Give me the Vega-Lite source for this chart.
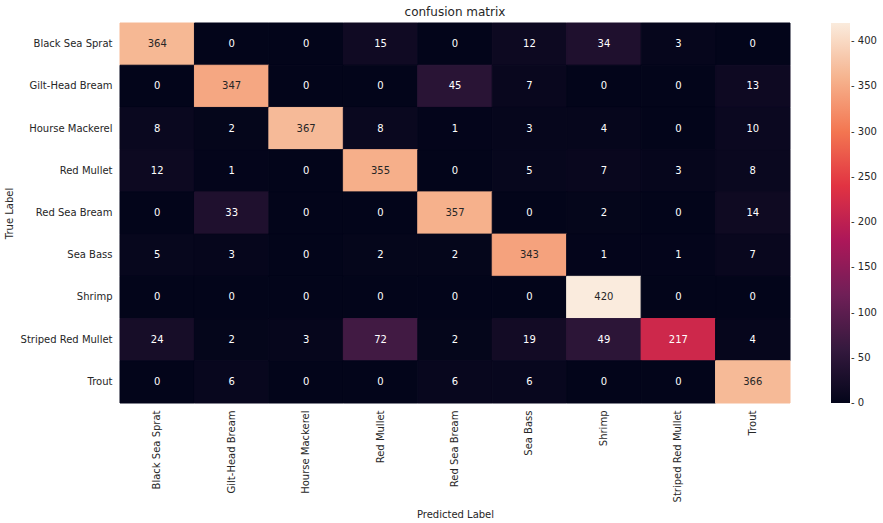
{
  "$schema": "https://vega.github.io/schema/vega-lite/v6.json",
  "width": 670,
  "height": 380,
  "autosize": "none",
  "padding": {"left": 120, "top": 23, "right": 93, "bottom": 120},
  "background": "white",
  "title": {"text": "confusion matrix", "fontSize": 12, "fontWeight": "normal", "font": "DejaVu Sans", "color": "#262626", "offset": 4},
  "config": {
    "view": {"stroke": null},
    "font": "DejaVu Sans",
    "axis": {"labelFont": "DejaVu Sans", "titleFont": "DejaVu Sans", "labelColor": "#262626", "titleColor": "#262626", "labelFontSize": 10, "titleFontSize": 10, "titleFontWeight": "normal", "ticks": false, "domain": false, "grid": false},
    "legend": {"labelFont": "DejaVu Sans", "labelFontSize": 10, "labelColor": "#262626"}
  },
  "data": {"values": [
    {"t": "Black Sea Sprat", "p": "Black Sea Sprat", "v": 364},
    {"t": "Black Sea Sprat", "p": "Gilt-Head Bream", "v": 0},
    {"t": "Black Sea Sprat", "p": "Hourse Mackerel", "v": 0},
    {"t": "Black Sea Sprat", "p": "Red Mullet", "v": 15},
    {"t": "Black Sea Sprat", "p": "Red Sea Bream", "v": 0},
    {"t": "Black Sea Sprat", "p": "Sea Bass", "v": 12},
    {"t": "Black Sea Sprat", "p": "Shrimp", "v": 34},
    {"t": "Black Sea Sprat", "p": "Striped Red Mullet", "v": 3},
    {"t": "Black Sea Sprat", "p": "Trout", "v": 0},
    {"t": "Gilt-Head Bream", "p": "Black Sea Sprat", "v": 0},
    {"t": "Gilt-Head Bream", "p": "Gilt-Head Bream", "v": 347},
    {"t": "Gilt-Head Bream", "p": "Hourse Mackerel", "v": 0},
    {"t": "Gilt-Head Bream", "p": "Red Mullet", "v": 0},
    {"t": "Gilt-Head Bream", "p": "Red Sea Bream", "v": 45},
    {"t": "Gilt-Head Bream", "p": "Sea Bass", "v": 7},
    {"t": "Gilt-Head Bream", "p": "Shrimp", "v": 0},
    {"t": "Gilt-Head Bream", "p": "Striped Red Mullet", "v": 0},
    {"t": "Gilt-Head Bream", "p": "Trout", "v": 13},
    {"t": "Hourse Mackerel", "p": "Black Sea Sprat", "v": 8},
    {"t": "Hourse Mackerel", "p": "Gilt-Head Bream", "v": 2},
    {"t": "Hourse Mackerel", "p": "Hourse Mackerel", "v": 367},
    {"t": "Hourse Mackerel", "p": "Red Mullet", "v": 8},
    {"t": "Hourse Mackerel", "p": "Red Sea Bream", "v": 1},
    {"t": "Hourse Mackerel", "p": "Sea Bass", "v": 3},
    {"t": "Hourse Mackerel", "p": "Shrimp", "v": 4},
    {"t": "Hourse Mackerel", "p": "Striped Red Mullet", "v": 0},
    {"t": "Hourse Mackerel", "p": "Trout", "v": 10},
    {"t": "Red Mullet", "p": "Black Sea Sprat", "v": 12},
    {"t": "Red Mullet", "p": "Gilt-Head Bream", "v": 1},
    {"t": "Red Mullet", "p": "Hourse Mackerel", "v": 0},
    {"t": "Red Mullet", "p": "Red Mullet", "v": 355},
    {"t": "Red Mullet", "p": "Red Sea Bream", "v": 0},
    {"t": "Red Mullet", "p": "Sea Bass", "v": 5},
    {"t": "Red Mullet", "p": "Shrimp", "v": 7},
    {"t": "Red Mullet", "p": "Striped Red Mullet", "v": 3},
    {"t": "Red Mullet", "p": "Trout", "v": 8},
    {"t": "Red Sea Bream", "p": "Black Sea Sprat", "v": 0},
    {"t": "Red Sea Bream", "p": "Gilt-Head Bream", "v": 33},
    {"t": "Red Sea Bream", "p": "Hourse Mackerel", "v": 0},
    {"t": "Red Sea Bream", "p": "Red Mullet", "v": 0},
    {"t": "Red Sea Bream", "p": "Red Sea Bream", "v": 357},
    {"t": "Red Sea Bream", "p": "Sea Bass", "v": 0},
    {"t": "Red Sea Bream", "p": "Shrimp", "v": 2},
    {"t": "Red Sea Bream", "p": "Striped Red Mullet", "v": 0},
    {"t": "Red Sea Bream", "p": "Trout", "v": 14},
    {"t": "Sea Bass", "p": "Black Sea Sprat", "v": 5},
    {"t": "Sea Bass", "p": "Gilt-Head Bream", "v": 3},
    {"t": "Sea Bass", "p": "Hourse Mackerel", "v": 0},
    {"t": "Sea Bass", "p": "Red Mullet", "v": 2},
    {"t": "Sea Bass", "p": "Red Sea Bream", "v": 2},
    {"t": "Sea Bass", "p": "Sea Bass", "v": 343},
    {"t": "Sea Bass", "p": "Shrimp", "v": 1},
    {"t": "Sea Bass", "p": "Striped Red Mullet", "v": 1},
    {"t": "Sea Bass", "p": "Trout", "v": 7},
    {"t": "Shrimp", "p": "Black Sea Sprat", "v": 0},
    {"t": "Shrimp", "p": "Gilt-Head Bream", "v": 0},
    {"t": "Shrimp", "p": "Hourse Mackerel", "v": 0},
    {"t": "Shrimp", "p": "Red Mullet", "v": 0},
    {"t": "Shrimp", "p": "Red Sea Bream", "v": 0},
    {"t": "Shrimp", "p": "Sea Bass", "v": 0},
    {"t": "Shrimp", "p": "Shrimp", "v": 420},
    {"t": "Shrimp", "p": "Striped Red Mullet", "v": 0},
    {"t": "Shrimp", "p": "Trout", "v": 0},
    {"t": "Striped Red Mullet", "p": "Black Sea Sprat", "v": 24},
    {"t": "Striped Red Mullet", "p": "Gilt-Head Bream", "v": 2},
    {"t": "Striped Red Mullet", "p": "Hourse Mackerel", "v": 3},
    {"t": "Striped Red Mullet", "p": "Red Mullet", "v": 72},
    {"t": "Striped Red Mullet", "p": "Red Sea Bream", "v": 2},
    {"t": "Striped Red Mullet", "p": "Sea Bass", "v": 19},
    {"t": "Striped Red Mullet", "p": "Shrimp", "v": 49},
    {"t": "Striped Red Mullet", "p": "Striped Red Mullet", "v": 217},
    {"t": "Striped Red Mullet", "p": "Trout", "v": 4},
    {"t": "Trout", "p": "Black Sea Sprat", "v": 0},
    {"t": "Trout", "p": "Gilt-Head Bream", "v": 6},
    {"t": "Trout", "p": "Hourse Mackerel", "v": 0},
    {"t": "Trout", "p": "Red Mullet", "v": 0},
    {"t": "Trout", "p": "Red Sea Bream", "v": 6},
    {"t": "Trout", "p": "Sea Bass", "v": 6},
    {"t": "Trout", "p": "Shrimp", "v": 0},
    {"t": "Trout", "p": "Striped Red Mullet", "v": 0},
    {"t": "Trout", "p": "Trout", "v": 366}
  ]},
  "encoding": {
    "x": {"field": "p", "type": "nominal", "sort": null, "scale": {"paddingInner": 0, "paddingOuter": 0},
      "axis": {"title": "Predicted Label", "labelAngle": -90, "labelAlign": "right", "labelBaseline": "middle", "labelPadding": 7, "titlePadding": 8}},
    "y": {"field": "t", "type": "nominal", "sort": null, "scale": {"paddingInner": 0, "paddingOuter": 0},
      "axis": {"title": "True Label", "labelPadding": 8, "titlePadding": 6}}
  },
  "layer": [
    {
      "mark": {"type": "rect", "strokeWidth": 1},
      "encoding": {
        "stroke": {"field": "v", "type": "quantitative",
          "scale": {"domain": [0, 60, 120, 180, 240, 300, 360, 420], "range": ["#03051a", "#35193e", "#701f57", "#ad1759", "#e13342", "#f37651", "#f6b48f", "#faebdd"], "interpolate": "rgb"},
          "legend": null},
        "fill": {"field": "v", "type": "quantitative",
          "scale": {"domain": [0, 60, 120, 180, 240, 300, 360, 420], "range": ["#03051a", "#35193e", "#701f57", "#ad1759", "#e13342", "#f37651", "#f6b48f", "#faebdd"], "interpolate": "rgb"},
          "legend": null}
      }
    },
    {
      "mark": {"type": "text", "fontSize": 10, "font": "DejaVu Sans"},
      "encoding": {
        "text": {"field": "v", "type": "quantitative"},
        "color": {"condition": {"test": "datum.v > 280", "value": "#262626"}, "value": "white"}
      }
    },
    {
      "mark": {"type": "rect", "opacity": 0},
      "encoding": {
        "color": {"field": "v", "type": "quantitative",
          "scale": {"domain": [0, 60, 120, 180, 240, 300, 360, 420], "range": ["#03051a", "#35193e", "#701f57", "#ad1759", "#e13342", "#f37651", "#f6b48f", "#faebdd"], "interpolate": "rgb"},
          "legend": {"type": "gradient", "title": null, "orient": "none", "legendX": 711, "legendY": 0, "direction": "vertical", "gradientLength": 380, "gradientThickness": 19, "values": [0, 50, 100, 150, 200, 250, 300, 350, 400], "labelExpr": "'- ' + datum.label", "labelOffset": 1, "labelBaseline": "middle", "padding": 0, "gradientStrokeWidth": 0, "gradientOpacity": 1,
            "encode": {"labels": {"update": {"baseline": {"value": "middle"}}}}}}
      }
    }
  ],
  "resolve": {"scale": {"color": "independent"}}
}
